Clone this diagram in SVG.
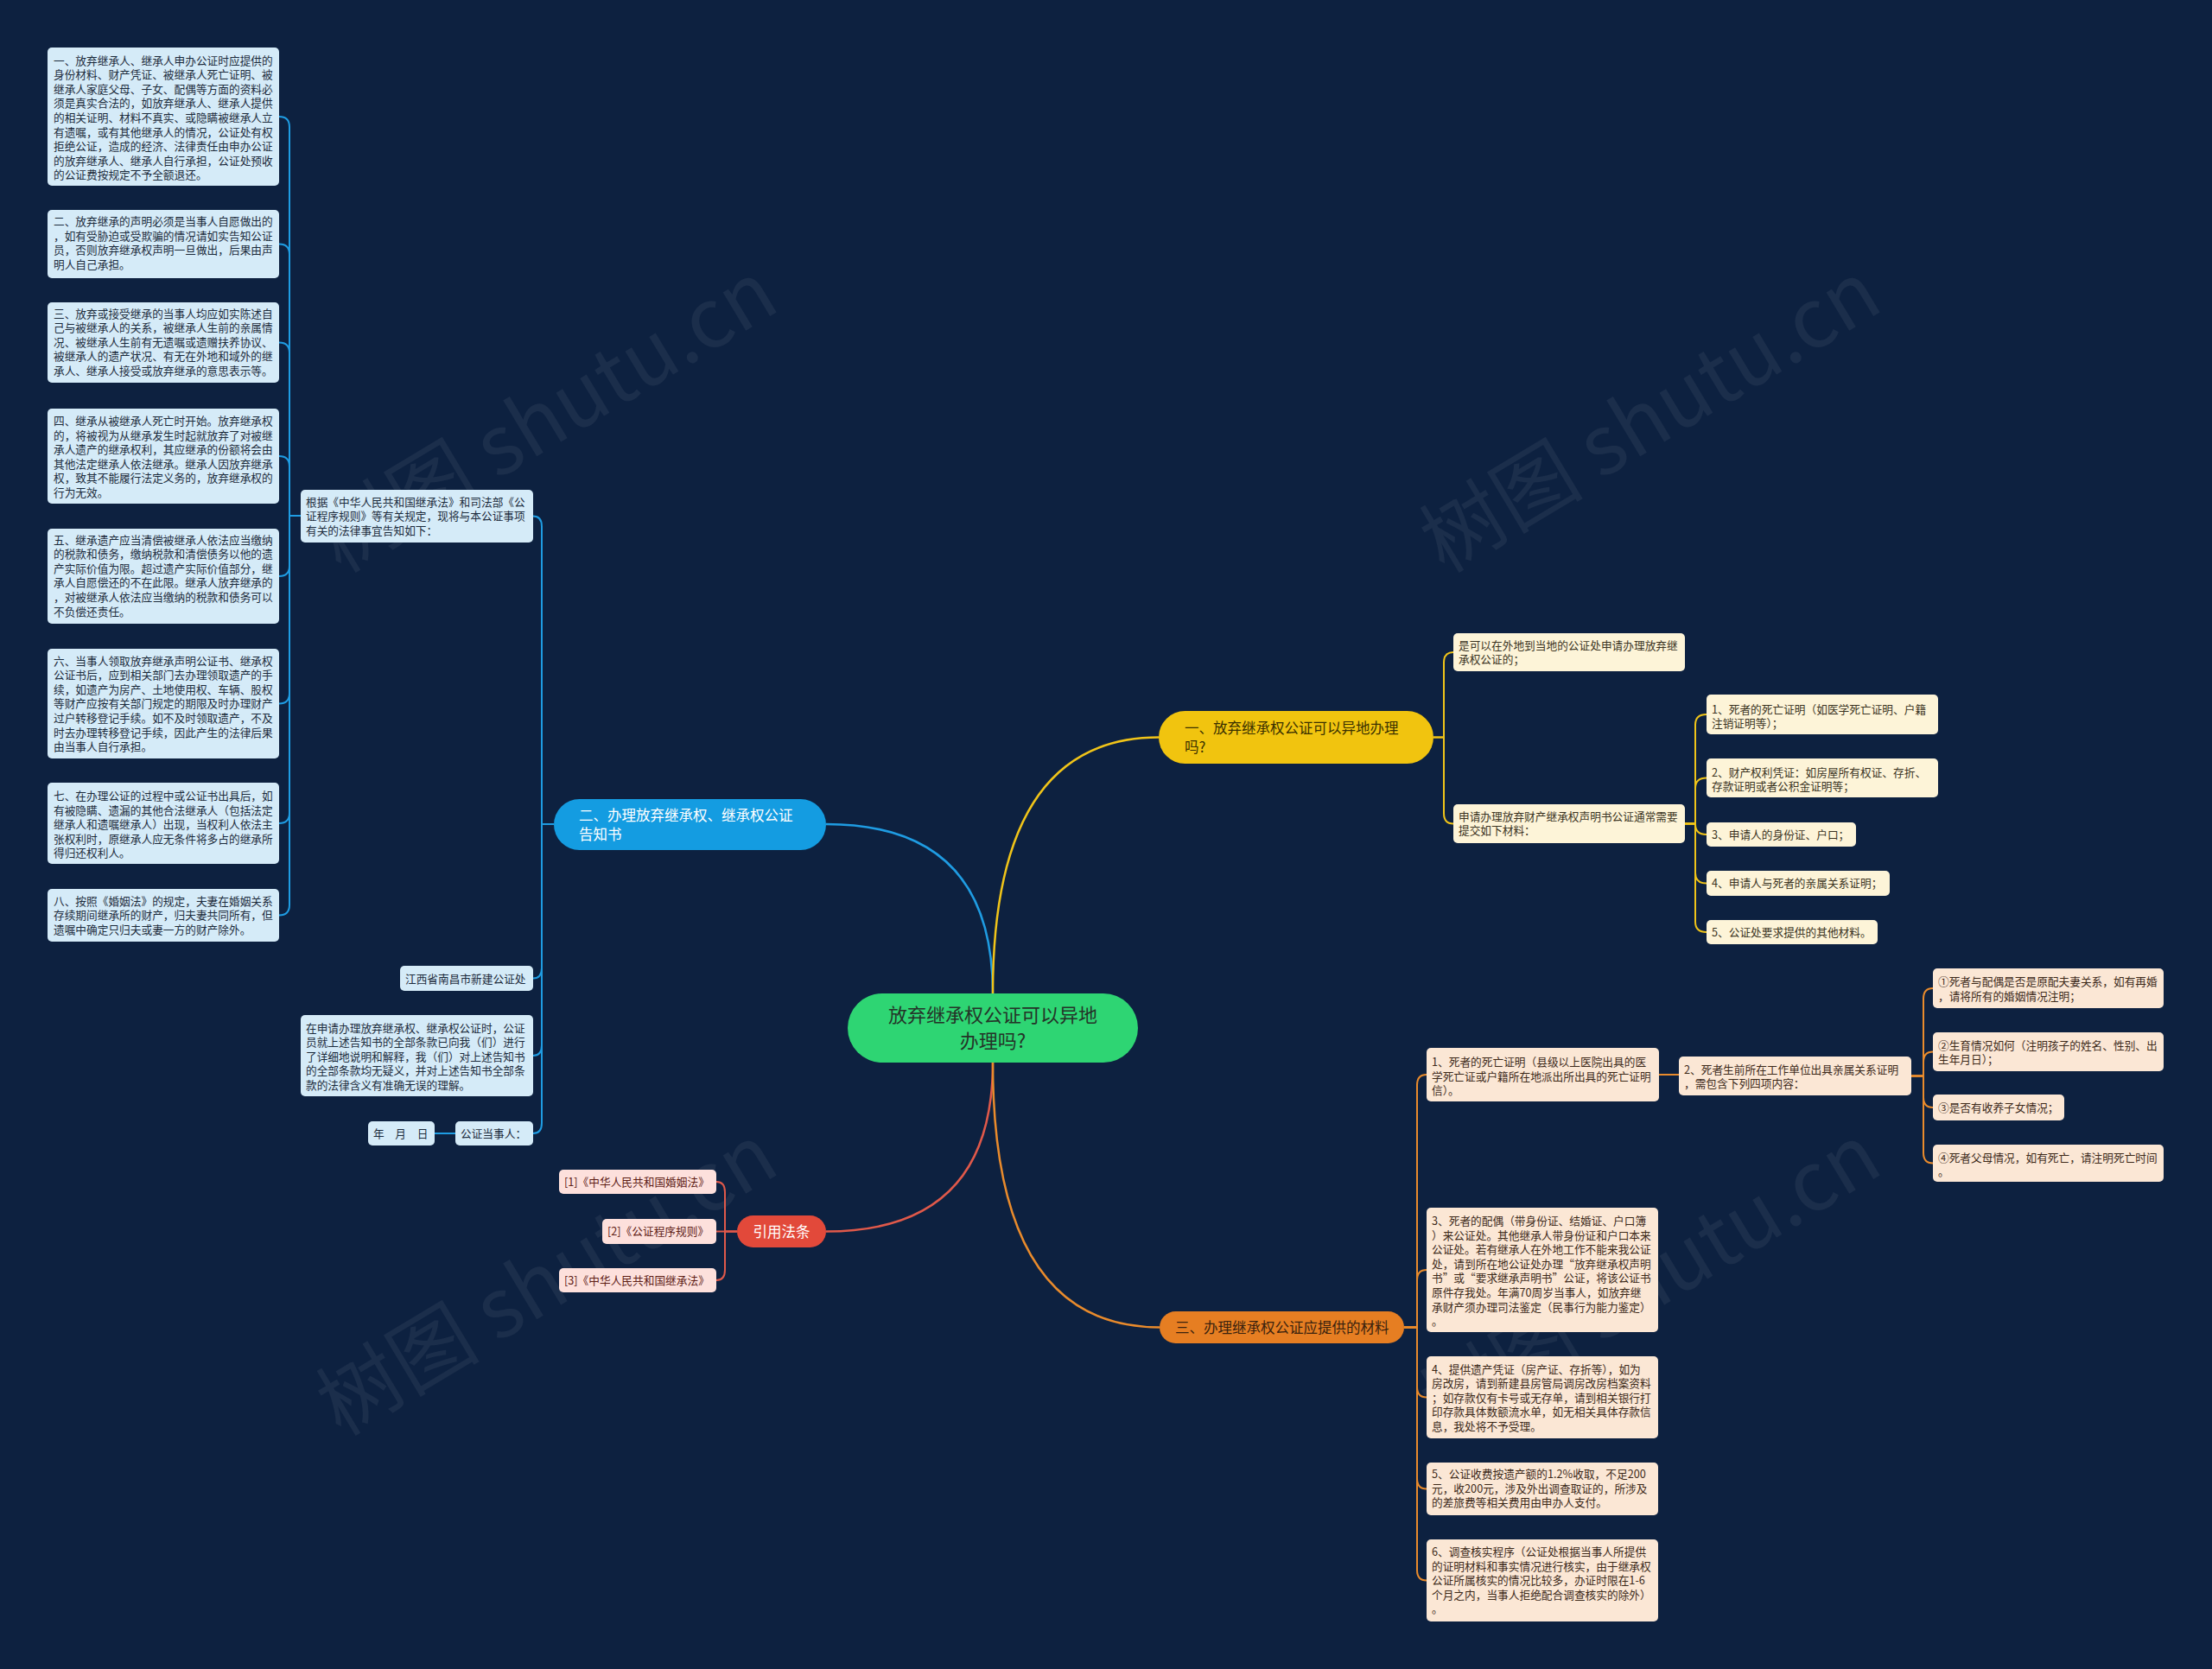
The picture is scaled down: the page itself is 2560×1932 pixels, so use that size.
<svg xmlns="http://www.w3.org/2000/svg" width="2560" height="1932" viewBox="0 0 2560 1932">
<style>
text{font-family:"Noto Sans CJK SC","Noto Sans",sans-serif;}
.s{font-size:12.7px;}
.b{font-size:16.5px;}
.c{font-size:22px;}
.wm{font-size:95px;fill:#ffffff;fill-opacity:0.06;text-anchor:middle;}
.nb{fill:#d5ebf8;}
.ny{fill:#fdf4d8;}
.no{fill:#fbe7d5;}
.nr{fill:#fde0dc;}
.tb{fill:#1c2b3c;}
.ty{fill:#3a3322;}
.to{fill:#3d2a1a;}
.tr{fill:#5e2016;}
.lb{fill:none;stroke:#1f9ce2;stroke-width:2;}
.ly{fill:none;stroke:#f0c419;stroke-width:2;}
.lo{fill:none;stroke:#e98b2c;stroke-width:2;}
.lr{fill:none;stroke:#e0594a;stroke-width:2;}
.m{stroke-width:2.5;}
</style>
<rect x="0" y="0" width="2560" height="1932" fill="#0d2140"/>

<g id="watermarks">
<text class="wm" transform="translate(650,511) rotate(-31)">树图 shutu.cn</text>
<text class="wm" transform="translate(1927,511) rotate(-31)">树图 shutu.cn</text>
<text class="wm" transform="translate(650,1510) rotate(-31)">树图 shutu.cn</text>
<text class="wm" transform="translate(1927,1510) rotate(-31)">树图 shutu.cn</text>
</g>

<g id="connectors">
<path class="lb m" d="M956,954 Q1149,954 1149,1150"/>
<path class="ly m" d="M1149,1150 Q1149,853.5 1341,853.5"/>
<path class="lr m" d="M1149,1230 Q1149,1425.5 956,1425.5"/>
<path class="lo m" d="M1149,1230 Q1149,1536.5 1342,1536.5"/>

<path class="lb" d="M348,597 H335 V147 Q335,135 323,135"/>
<path class="lb" d="M348,597 H335 V294.5 Q335,282.5 323,282.5"/>
<path class="lb" d="M348,597 H335 V408.5 Q335,396.5 323,396.5"/>
<path class="lb" d="M348,597 H335 V540 Q335,528 323,528"/>
<path class="lb" d="M348,597 H335 V655 Q335,667 323,667"/>
<path class="lb" d="M348,597 H335 V802.5 Q335,814.5 323,814.5"/>
<path class="lb" d="M348,597 H335 V941 Q335,953 323,953"/>
<path class="lb" d="M348,597 H335 V1047.5 Q335,1059.5 323,1059.5"/>

<path class="lb" d="M641,954 H627 V609.5 Q627,597.5 617,597.5"/>
<path class="lb" d="M641,954 H627 V1120.5 Q627,1132.5 617,1132.5"/>
<path class="lb" d="M641,954 H627 V1210 Q627,1222 617,1222"/>
<path class="lb" d="M641,954 H627 V1300 Q627,1312 617,1312"/>
<path class="lb" d="M527,1312 H503"/>

<path class="ly" d="M1659,853.5 H1671 V767 Q1671,755 1682,755"/>
<path class="ly" d="M1659,853.5 H1671 V941.5 Q1671,953.5 1682,953.5"/>
<path class="ly" d="M1950,953.5 H1962 V839 Q1962,827 1975,827"/>
<path class="ly" d="M1950,953.5 H1962 V912.5 Q1962,900.5 1975,900.5"/>
<path class="ly" d="M1950,953.5 H1962 V954 Q1962,966 1975,966"/>
<path class="ly" d="M1950,953.5 H1962 V1010.5 Q1962,1022.5 1975,1022.5"/>
<path class="ly" d="M1950,953.5 H1962 V1067 Q1962,1079 1975,1079"/>

<path class="lo" d="M1625,1536.5 H1640 V1256 Q1640,1244 1651,1244"/>
<path class="lo" d="M1625,1536.5 H1640 V1482 Q1640,1470 1651,1470"/>
<path class="lo" d="M1625,1536.5 H1640 V1605.5 Q1640,1617.5 1651,1617.5"/>
<path class="lo" d="M1625,1536.5 H1640 V1711.5 Q1640,1723.5 1651,1723.5"/>
<path class="lo" d="M1625,1536.5 H1640 V1817.5 Q1640,1829.5 1651,1829.5"/>
<path class="lo" d="M1920,1244 H1943"/>
<path class="lo" d="M2212,1245.5 H2226 V1156 Q2226,1144 2237,1144"/>
<path class="lo" d="M2212,1245.5 H2226 V1229.5 Q2226,1217.5 2237,1217.5"/>
<path class="lo" d="M2212,1245.5 H2226 V1270 Q2226,1282 2237,1282"/>
<path class="lo" d="M2212,1245.5 H2226 V1334.5 Q2226,1346.5 2237,1346.5"/>

<path class="lr" d="M853,1425.5 H839 V1380 Q839,1368 829,1368"/>
<path class="lr" d="M853,1425.5 H829"/>
<path class="lr" d="M853,1425.5 H839 V1470 Q839,1482 829,1482"/>
</g>

<g id="center">
<rect x="981" y="1150" width="336" height="80" rx="40" fill="#2ed573"/>
<text class="c" x="1149" y="1183" text-anchor="middle" fill="#243328">放弃继承权公证可以异地</text>
<text class="c" x="1149" y="1213" text-anchor="middle" fill="#243328">办理吗?</text>
</g>

<g id="branch1">
<rect x="1341" y="823" width="318" height="61" rx="30.5" fill="#f1c40f"/>
<text class="b" x="1371" y="849" fill="#3a3000">一、放弃继承权公证可以异地办理</text>
<text class="b" x="1371" y="871" fill="#3a3000">吗?</text>
</g>
<g id="b1-n1">
<rect class="ny" x="1682" y="733" width="268" height="44" rx="5"/>
<text class="s ty" x="1688" y="751.5">是可以在外地到当地的公证处申请办理放弃继</text>
<text class="s ty" x="1688" y="768.1">承权公证的；</text>
</g>
<g id="b1-n2">
<rect class="ny" x="1682" y="931" width="268" height="45" rx="5"/>
<text class="s ty" x="1688" y="949.5">申请办理放弃财产继承权声明书公证通常需要</text>
<text class="s ty" x="1688" y="966.1">提交如下材料：</text>
</g>
<g id="b1-n2-1">
<rect class="ny" x="1975" y="804" width="268" height="46" rx="5"/>
<text class="s ty" x="1981" y="825.5">1、死者的死亡证明（如医学死亡证明、户籍</text>
<text class="s ty" x="1981" y="842.1">注销证明等）；</text>
</g>
<g id="b1-n2-2">
<rect class="ny" x="1975" y="878" width="268" height="45" rx="5"/>
<text class="s ty" x="1981" y="898.5">2、财产权利凭证：如房屋所有权证、存折、</text>
<text class="s ty" x="1981" y="915.1">存款证明或者公积金证明等；</text>
</g>
<g id="b1-n2-3">
<rect class="ny" x="1975" y="952" width="173" height="28" rx="5"/>
<text class="s ty" x="1981" y="970.5">3、申请人的身份证、户口；</text>
</g>
<g id="b1-n2-4">
<rect class="ny" x="1975" y="1008" width="212" height="29" rx="5"/>
<text class="s ty" x="1981" y="1027">4、申请人与死者的亲属关系证明；</text>
</g>
<g id="b1-n2-5">
<rect class="ny" x="1975" y="1065" width="198" height="28" rx="5"/>
<text class="s ty" x="1981" y="1083.5">5、公证处要求提供的其他材料。</text>
</g>

<g id="branch2">
<rect x="641" y="925" width="315" height="59" rx="29.5" fill="#149ce1"/>
<text class="b" x="670" y="950" fill="#ffffff">二、办理放弃继承权、继承权公证</text>
<text class="b" x="670" y="972" fill="#ffffff">告知书</text>
</g>
<g id="b2-n1">
<rect class="nb" x="348" y="567" width="269" height="61" rx="5"/>
<text class="s tb" x="354" y="585.5">根据《中华人民共和国继承法》和司法部《公</text>
<text class="s tb" x="354" y="602.1">证程序规则》等有关规定，现将与本公证事项</text>
<text class="s tb" x="354" y="618.7">有关的法律事宜告知如下：</text>
</g>
<g id="b2-n1-1">
<rect class="nb" x="55" y="55" width="268" height="160" rx="5"/>
<text class="s tb" x="62" y="74.5">一、放弃继承人、继承人申办公证时应提供的</text>
<text class="s tb" x="62" y="91.1">身份材料、财产凭证、被继承人死亡证明、被</text>
<text class="s tb" x="62" y="107.7">继承人家庭父母、子女、配偶等方面的资料必</text>
<text class="s tb" x="62" y="124.3">须是真实合法的，如放弃继承人、继承人提供</text>
<text class="s tb" x="62" y="140.9">的相关证明、材料不真实、或隐瞒被继承人立</text>
<text class="s tb" x="62" y="157.5">有遗嘱，或有其他继承人的情况，公证处有权</text>
<text class="s tb" x="62" y="174.1">拒绝公证，造成的经济、法律责任由申办公证</text>
<text class="s tb" x="62" y="190.7">的放弃继承人、继承人自行承担，公证处预收</text>
<text class="s tb" x="62" y="207.3">的公证费按规定不予全额退还。</text>
</g>
<g id="b2-n1-2">
<rect class="nb" x="55" y="243" width="268" height="79" rx="5"/>
<text class="s tb" x="62" y="261.2">二、放弃继承的声明必须是当事人自愿做出的</text>
<text class="s tb" x="62" y="277.8">，如有受胁迫或受欺骗的情况请如实告知公证</text>
<text class="s tb" x="62" y="294.4">员，否则放弃继承权声明一旦做出，后果由声</text>
<text class="s tb" x="62" y="311">明人自己承担。</text>
</g>
<g id="b2-n1-3">
<rect class="nb" x="55" y="350" width="268" height="93" rx="5"/>
<text class="s tb" x="62" y="367.5">三、放弃或接受继承的当事人均应如实陈述自</text>
<text class="s tb" x="62" y="384.1">己与被继承人的关系，被继承人生前的亲属情</text>
<text class="s tb" x="62" y="400.7">况、被继承人生前有无遗嘱或遗赠扶养协议、</text>
<text class="s tb" x="62" y="417.3">被继承人的遗产状况、有无在外地和域外的继</text>
<text class="s tb" x="62" y="433.9">承人、继承人接受或放弃继承的意思表示等。</text>
</g>
<g id="b2-n1-4">
<rect class="nb" x="55" y="473" width="268" height="110" rx="5"/>
<text class="s tb" x="62" y="492">四、继承从被继承人死亡时开始。放弃继承权</text>
<text class="s tb" x="62" y="508.6">的，将被视为从继承发生时起就放弃了对被继</text>
<text class="s tb" x="62" y="525.2">承人遗产的继承权利，其应继承的份额将会由</text>
<text class="s tb" x="62" y="541.8">其他法定继承人依法继承。继承人因放弃继承</text>
<text class="s tb" x="62" y="558.4">权，致其不能履行法定义务的，放弃继承权的</text>
<text class="s tb" x="62" y="575">行为无效。</text>
</g>
<g id="b2-n1-5">
<rect class="nb" x="55" y="612" width="268" height="110" rx="5"/>
<text class="s tb" x="62" y="629.5">五、继承遗产应当清偿被继承人依法应当缴纳</text>
<text class="s tb" x="62" y="646.1">的税款和债务，缴纳税款和清偿债务以他的遗</text>
<text class="s tb" x="62" y="662.7">产实际价值为限。超过遗产实际价值部分，继</text>
<text class="s tb" x="62" y="679.3">承人自愿偿还的不在此限。继承人放弃继承的</text>
<text class="s tb" x="62" y="695.9">，对被继承人依法应当缴纳的税款和债务可以</text>
<text class="s tb" x="62" y="712.5">不负偿还责任。</text>
</g>
<g id="b2-n1-6">
<rect class="nb" x="55" y="751" width="268" height="127" rx="5"/>
<text class="s tb" x="62" y="769.5">六、当事人领取放弃继承声明公证书、继承权</text>
<text class="s tb" x="62" y="786.1">公证书后，应到相关部门去办理领取遗产的手</text>
<text class="s tb" x="62" y="802.7">续，如遗产为房产、土地使用权、车辆、股权</text>
<text class="s tb" x="62" y="819.3">等财产应按有关部门规定的期限及时办理财产</text>
<text class="s tb" x="62" y="835.9">过户转移登记手续。如不及时领取遗产，不及</text>
<text class="s tb" x="62" y="852.5">时去办理转移登记手续，因此产生的法律后果</text>
<text class="s tb" x="62" y="869.1">由当事人自行承担。</text>
</g>
<g id="b2-n1-7">
<rect class="nb" x="55" y="906" width="268" height="94" rx="5"/>
<text class="s tb" x="62" y="926">七、在办理公证的过程中或公证书出具后，如</text>
<text class="s tb" x="62" y="942.6">有被隐瞒、遗漏的其他合法继承人（包括法定</text>
<text class="s tb" x="62" y="959.2">继承人和遗嘱继承人）出现，当权利人依法主</text>
<text class="s tb" x="62" y="975.8">张权利时，原继承人应无条件将多占的继承所</text>
<text class="s tb" x="62" y="992.4">得归还权利人。</text>
</g>
<g id="b2-n1-8">
<rect class="nb" x="55" y="1029" width="268" height="61" rx="5"/>
<text class="s tb" x="62" y="1047.5">八、按照《婚姻法》的规定，夫妻在婚姻关系</text>
<text class="s tb" x="62" y="1064.1">存续期间继承所的财产，归夫妻共同所有，但</text>
<text class="s tb" x="62" y="1080.7">遗嘱中确定只归夫或妻一方的财产除外。</text>
</g>
<g id="b2-n2">
<rect class="nb" x="463" y="1118" width="154" height="29" rx="5"/>
<text class="s tb" x="469" y="1137.5">江西省南昌市新建公证处</text>
</g>
<g id="b2-n3">
<rect class="nb" x="348" y="1175" width="269" height="94" rx="5"/>
<text class="s tb" x="354" y="1194.5">在申请办理放弃继承权、继承权公证时，公证</text>
<text class="s tb" x="354" y="1211.1">员就上述告知书的全部条款已向我（们）进行</text>
<text class="s tb" x="354" y="1227.7">了详细地说明和解释，我（们）对上述告知书</text>
<text class="s tb" x="354" y="1244.3">的全部条款均无疑义，并对上述告知书全部条</text>
<text class="s tb" x="354" y="1260.9">款的法律含义有准确无误的理解。</text>
</g>
<g id="b2-n4">
<rect class="nb" x="527" y="1298" width="90" height="28" rx="5"/>
<text class="s tb" x="533" y="1316.5">公证当事人：</text>
</g>
<g id="b2-n4-1">
<rect class="nb" x="426" y="1298" width="77" height="28" rx="5"/>
<text class="s tb" x="432" y="1316.5">年　月　日</text>
</g>

<g id="branch3">
<rect x="1342" y="1518" width="283" height="37" rx="18.5" fill="#e67e22"/>
<text class="b" x="1360" y="1542.5" fill="#3a220e">三、办理继承权公证应提供的材料</text>
</g>
<g id="b3-n1">
<rect class="no" x="1651" y="1213" width="269" height="62" rx="5"/>
<text class="s to" x="1657" y="1234">1、死者的死亡证明（县级以上医院出具的医</text>
<text class="s to" x="1657" y="1250.6">学死亡证或户籍所在地派出所出具的死亡证明</text>
<text class="s to" x="1657" y="1267.2">信）。</text>
</g>
<g id="b3-n1-1">
<rect class="no" x="1943" y="1223" width="269" height="45" rx="5"/>
<text class="s to" x="1949" y="1242.5">2、死者生前所在工作单位出具亲属关系证明</text>
<text class="s to" x="1949" y="1259.1">，需包含下列四项内容：</text>
</g>
<g id="b3-n1-1-1">
<rect class="no" x="2237" y="1121" width="267" height="46" rx="5"/>
<text class="s to" x="2243" y="1141">①死者与配偶是否是原配夫妻关系，如有再婚</text>
<text class="s to" x="2243" y="1157.6">，请将所有的婚姻情况注明；</text>
</g>
<g id="b3-n1-1-2">
<rect class="no" x="2237" y="1195" width="267" height="45" rx="5"/>
<text class="s to" x="2243" y="1214.5">②生育情况如何（注明孩子的姓名、性别、出</text>
<text class="s to" x="2243" y="1231.1">生年月日）；</text>
</g>
<g id="b3-n1-1-3">
<rect class="no" x="2237" y="1267" width="152" height="30" rx="5"/>
<text class="s to" x="2243" y="1287">③是否有收养子女情况；</text>
</g>
<g id="b3-n1-1-4">
<rect class="no" x="2237" y="1325" width="267" height="43" rx="5"/>
<text class="s to" x="2243" y="1344.5">④死者父母情况，如有死亡，请注明死亡时间</text>
<text class="s to" x="2243" y="1361.1">。</text>
</g>
<g id="b3-n2">
<rect class="no" x="1651" y="1398" width="268" height="144" rx="5"/>
<text class="s to" x="1657" y="1418">3、死者的配偶（带身份证、结婚证、户口簿</text>
<text class="s to" x="1657" y="1434.6">）来公证处。其他继承人带身份证和户口本来</text>
<text class="s to" x="1657" y="1451.2">公证处。若有继承人在外地工作不能来我公证</text>
<text class="s to" x="1657" y="1467.8">处，请到所在地公证处办理“放弃继承权声明</text>
<text class="s to" x="1657" y="1484.4">书”或“要求继承声明书”公证，将该公证书</text>
<text class="s to" x="1657" y="1501">原件存我处。年满70周岁当事人，如放弃继</text>
<text class="s to" x="1657" y="1517.6">承财产须办理司法鉴定（民事行为能力鉴定）</text>
<text class="s to" x="1657" y="1534.2">。</text>
</g>
<g id="b3-n3">
<rect class="no" x="1651" y="1570" width="268" height="95" rx="5"/>
<text class="s to" x="1657" y="1589.5">4、提供遗产凭证（房产证、存折等），如为</text>
<text class="s to" x="1657" y="1606.1">房改房，请到新建县房管局调房改房档案资料</text>
<text class="s to" x="1657" y="1622.7">；如存款仅有卡号或无存单，请到相关银行打</text>
<text class="s to" x="1657" y="1639.3">印存款具体数额流水单，如无相关具体存款信</text>
<text class="s to" x="1657" y="1655.9">息，我处将不予受理。</text>
</g>
<g id="b3-n4">
<rect class="no" x="1651" y="1693" width="268" height="61" rx="5"/>
<text class="s to" x="1657" y="1711">5、公证收费按遗产额的1.2%收取，不足200</text>
<text class="s to" x="1657" y="1727.6">元，收200元，涉及外出调查取证的，所涉及</text>
<text class="s to" x="1657" y="1744.2">的差旅费等相关费用由申办人支付。</text>
</g>
<g id="b3-n5">
<rect class="no" x="1651" y="1782" width="268" height="95" rx="5"/>
<text class="s to" x="1657" y="1801">6、调查核实程序（公证处根据当事人所提供</text>
<text class="s to" x="1657" y="1817.6">的证明材料和事实情况进行核实，由于继承权</text>
<text class="s to" x="1657" y="1834.2">公证所属核实的情况比较多，办证时限在1-6</text>
<text class="s to" x="1657" y="1850.8">个月之内，当事人拒绝配合调查核实的除外）</text>
<text class="s to" x="1657" y="1867.4">。</text>
</g>

<g id="branch4">
<rect x="853" y="1407" width="103" height="37" rx="18.5" fill="#e2493a"/>
<text class="b" x="904.5" y="1431.5" text-anchor="middle" fill="#ffffff">引用法条</text>
</g>
<g id="b4-n1">
<rect class="nr" x="647" y="1354" width="182" height="28" rx="5"/>
<text class="s tr" x="653" y="1372.5">[1]《中华人民共和国婚姻法》</text>
</g>
<g id="b4-n2">
<rect class="nr" x="697" y="1411" width="132" height="29" rx="5"/>
<text class="s tr" x="703" y="1430">[2]《公证程序规则》</text>
</g>
<g id="b4-n3">
<rect class="nr" x="647" y="1468" width="182" height="28" rx="5"/>
<text class="s tr" x="653" y="1486.5">[3]《中华人民共和国继承法》</text>
</g>
</svg>
